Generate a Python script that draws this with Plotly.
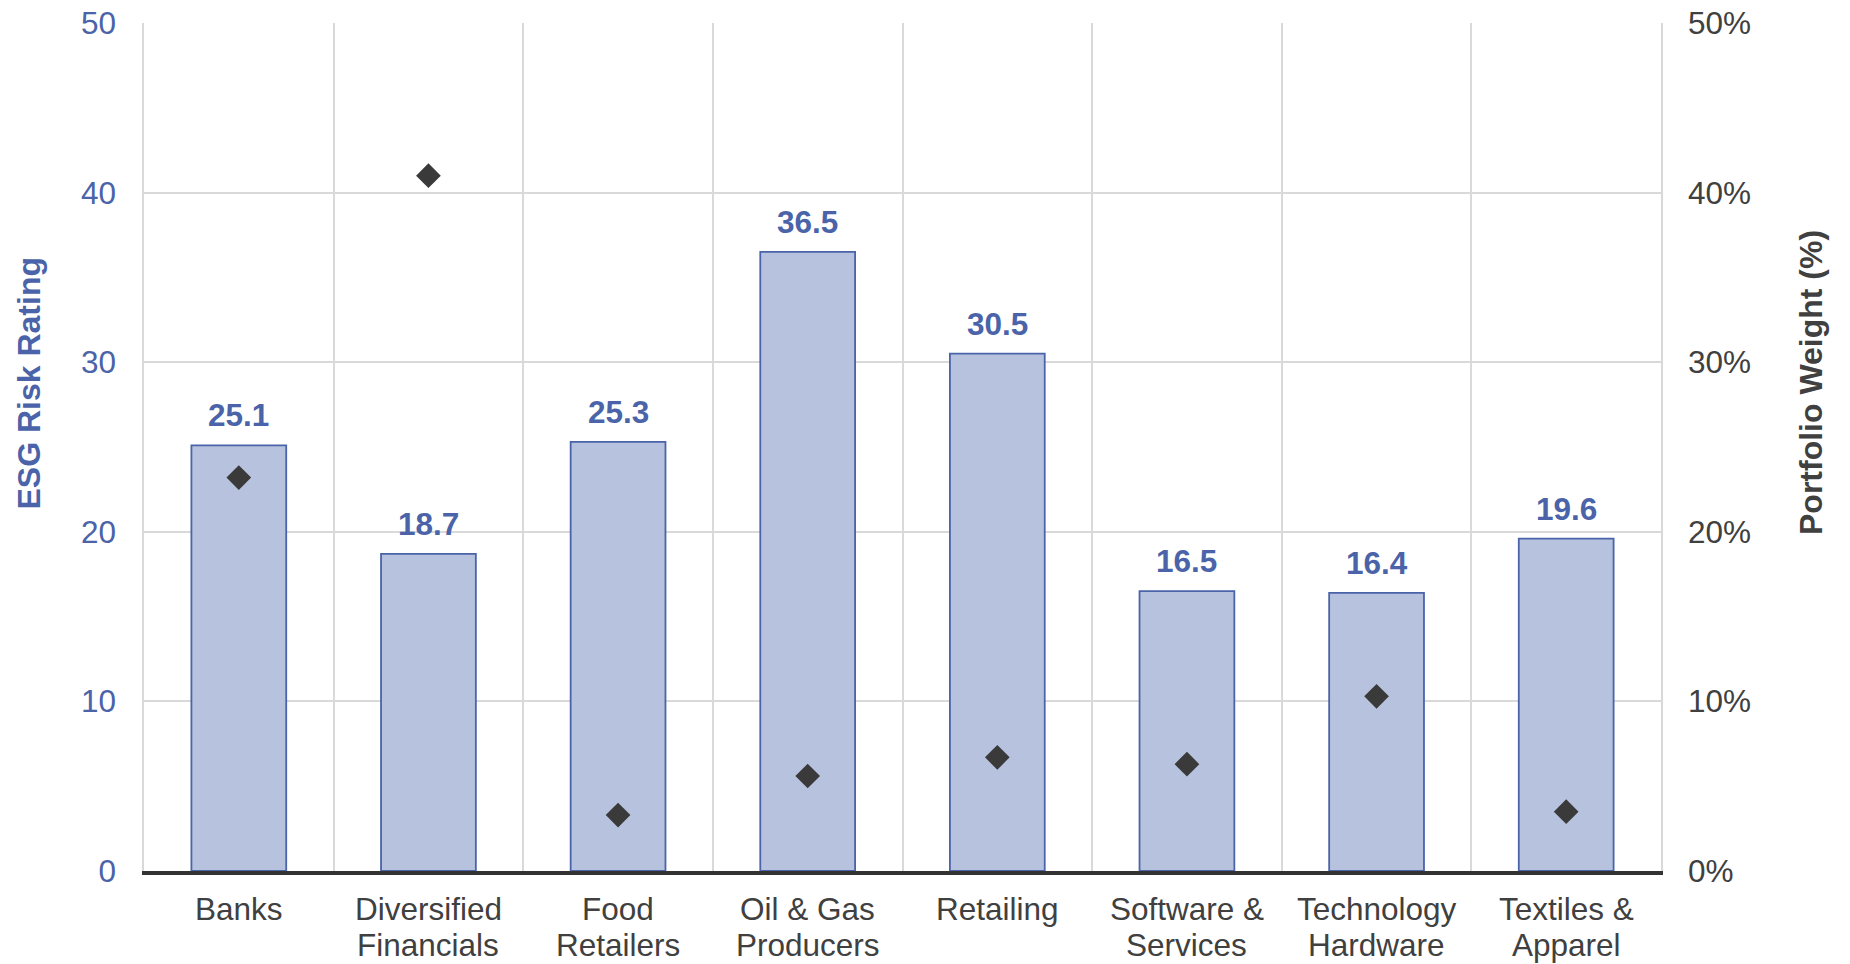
import plotly.graph_objects as go

categories = ["Banks", "Diversified<br>Financials", "Food<br>Retailers", "Oil & Gas<br>Producers",
              "Retailing", "Software &<br>Services", "Technology<br>Hardware", "Textiles &<br>Apparel"]
esg_risk = [25.1, 18.7, 25.3, 36.5, 30.5, 16.5, 16.4, 19.6]
weight_pct = [23.2, 41.0, 3.3, 5.6, 6.7, 6.3, 10.3, 3.5]

BLUE = "#4A63A9"
FILL = "#B7C3DE"
DARK = "#3A3A3A"
TXT = "#404040"
GRID = "#D9D9D9"
FONT = "Liberation Sans, Arial, sans-serif"
FS = 31.5

W, H = 1850, 964
ML, MR, MT, MB = 144, 189, 23, 93
PW, PH = W - ML - MR, H - MT - MB

fig = go.Figure()
fig.add_trace(go.Bar(
    x=categories, y=esg_risk, marker=dict(color=FILL, line=dict(color=BLUE, width=1.8)),
    showlegend=False, hoverinfo="skip"))
fig.add_trace(go.Scatter(
    x=categories, y=weight_pct, yaxis="y2", mode="markers",
    marker=dict(symbol="diamond", size=19, color=DARK),
    showlegend=False, hoverinfo="skip"))

# value labels above bars
for c, v in zip(categories, esg_risk):
    fig.add_annotation(x=c, y=v, xref="x", yref="y", text=f"<b>{v:.1f}</b>",
                       showarrow=False, yanchor="bottom", yshift=10,
                       font=dict(family=FONT, size=FS, color=BLUE))

# category labels (tighter line spacing than default)
for c in categories:
    for i, line in enumerate(c.split("<br>")):
        fig.add_annotation(x=c, y=0, xref="x", yref="paper", text=line,
                           showarrow=False, yanchor="middle", yshift=-37.5 - 36 * i,
                           font=dict(family=FONT, size=FS, color=TXT))

# axis titles (positions converted from figure pixels to plot-area fractions)
title_y = (H - MB - 383) / PH
fig.add_annotation(x=(28.5 - ML) / PW, y=title_y, xref="paper", yref="paper",
                   xanchor="center", yanchor="middle", showarrow=False,
                   text="<b>ESG Risk Rating</b>", textangle=-90,
                   font=dict(family=FONT, size=32, color=BLUE))
fig.add_annotation(x=(1811 - ML) / PW, y=title_y, xref="paper", yref="paper",
                   xanchor="center", yanchor="middle", showarrow=False,
                   text="<b>Portfolio Weight (%)</b>", textangle=-90,
                   font=dict(family=FONT, size=32, color=TXT))

fig.update_layout(
    width=W, height=H,
    margin=dict(l=ML, r=MR, t=MT, b=MB),
    plot_bgcolor="white", paper_bgcolor="white",
    font=dict(family=FONT, size=FS, color=TXT),
    bargap=0.5,
    xaxis=dict(type="category", tickson="boundaries", showgrid=True, gridcolor=GRID, gridwidth=1.5,
               ticks="", showticklabels=False, automargin=False,
               showline=True, linecolor="#333333", linewidth=3.5, layer="above traces"),
    yaxis=dict(range=[0, 50], dtick=10, showgrid=True, gridcolor=GRID, gridwidth=1.5,
               zeroline=False, showline=True, linecolor=GRID, linewidth=1.5, mirror=True,
               ticks="", ticklabelstandoff=20, automargin=False,
               tickfont=dict(family=FONT, size=FS, color=BLUE)),
    yaxis2=dict(range=[0, 50], dtick=10, overlaying="y", side="right", showgrid=False,
                zeroline=False, ticks="", ticksuffix="%", ticklabelstandoff=26, automargin=False,
                tickfont=dict(family=FONT, size=FS, color=TXT)),
)

fig.write_html("out.html")
